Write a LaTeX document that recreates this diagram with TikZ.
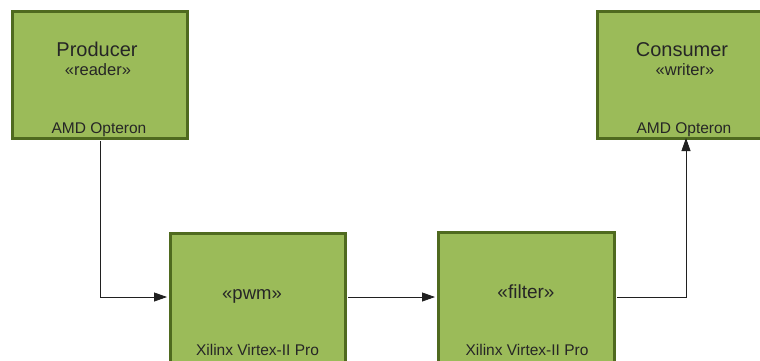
\documentclass[tikz,border=0pt]{standalone}
\usepackage{fontspec}
\setmainfont{Liberation Sans}
\usetikzlibrary{arrows.meta}
\definecolor{boxfill}{HTML}{9BBB59}
\definecolor{boxline}{HTML}{4F6A1F}
\definecolor{wire}{HTML}{202020}
\newcommand{\fs}[1]{\fontsize{#1}{#1}\selectfont}
\begin{document}
\begin{tikzpicture}[x=1pt,y=-1pt,
  unit/.style={draw=boxline, fill=boxfill, line width=3pt, inner sep=0pt, rectangle},
  lbl/.style={anchor=base, inner sep=0pt, text=black!85},
  wirearrow/.style={draw=wire, line width=0.8pt, -{Triangle[length=13pt,width=9pt]}}
]
\useasboundingbox (0,0) rectangle (760,360);
\clip (0,0) rectangle (760,360);

% device boxes
\node[unit, minimum width=175pt, minimum height=127pt] (prod) at (99.5,74.5) {};
\node[unit, minimum width=173pt, minimum height=127pt] (cons) at (683.5,74.5) {};
\node[unit, minimum width=175pt, minimum height=129pt] (pwm) at (257.5,297.5) {};
\node[unit, minimum width=176pt, minimum height=130pt] (filt) at (526,297) {};

% labels
\node[lbl, font=\fs{20}] (prodname) at (97,56) {Producer};
\node[lbl, font=\fs{16.5}] (prodst) at (98,75) {«reader»};
\node[lbl, font=\fs{15.5}] (prodhw) at (99,133) {AMD Opteron};

\node[lbl, font=\fs{20}] (consname) at (682,56) {Consumer};
\node[lbl, font=\fs{16.5}] (consst) at (685,75) {«writer»};
\node[lbl, font=\fs{15.5}] (conshw) at (684,133) {AMD Opteron};

\node[lbl, font=\fs{18.5}] (pwmst) at (252,299) {«pwm»};
\node[lbl, font=\fs{15.5}] (pwmhw) at (257.5,355) {Xilinx Virtex-II Pro};

\node[lbl, font=\fs{19}] (filtst) at (526,298) {«filter»};
\node[lbl, font=\fs{15.5}] (filthw) at (527,355) {Xilinx Virtex-II Pro};

% connectors
\coordinate (bend1) at (100,297);
\coordinate (bend2) at (686,297);
\draw[wirearrow] (prod.south -| bend1) ++(0,1.5) -- (bend1) -- ([xshift=-1.5pt]pwm.west |- bend1);
\draw[wirearrow] ([xshift=1.5pt]pwm.east |- bend1) -- ([xshift=-1.5pt]filt.west |- bend1);
\draw[wirearrow] ([xshift=1.5pt]filt.east |- bend2) -- (bend2) -- ([yshift=1.5pt]cons.south -| bend2);
\end{tikzpicture}
\end{document}
